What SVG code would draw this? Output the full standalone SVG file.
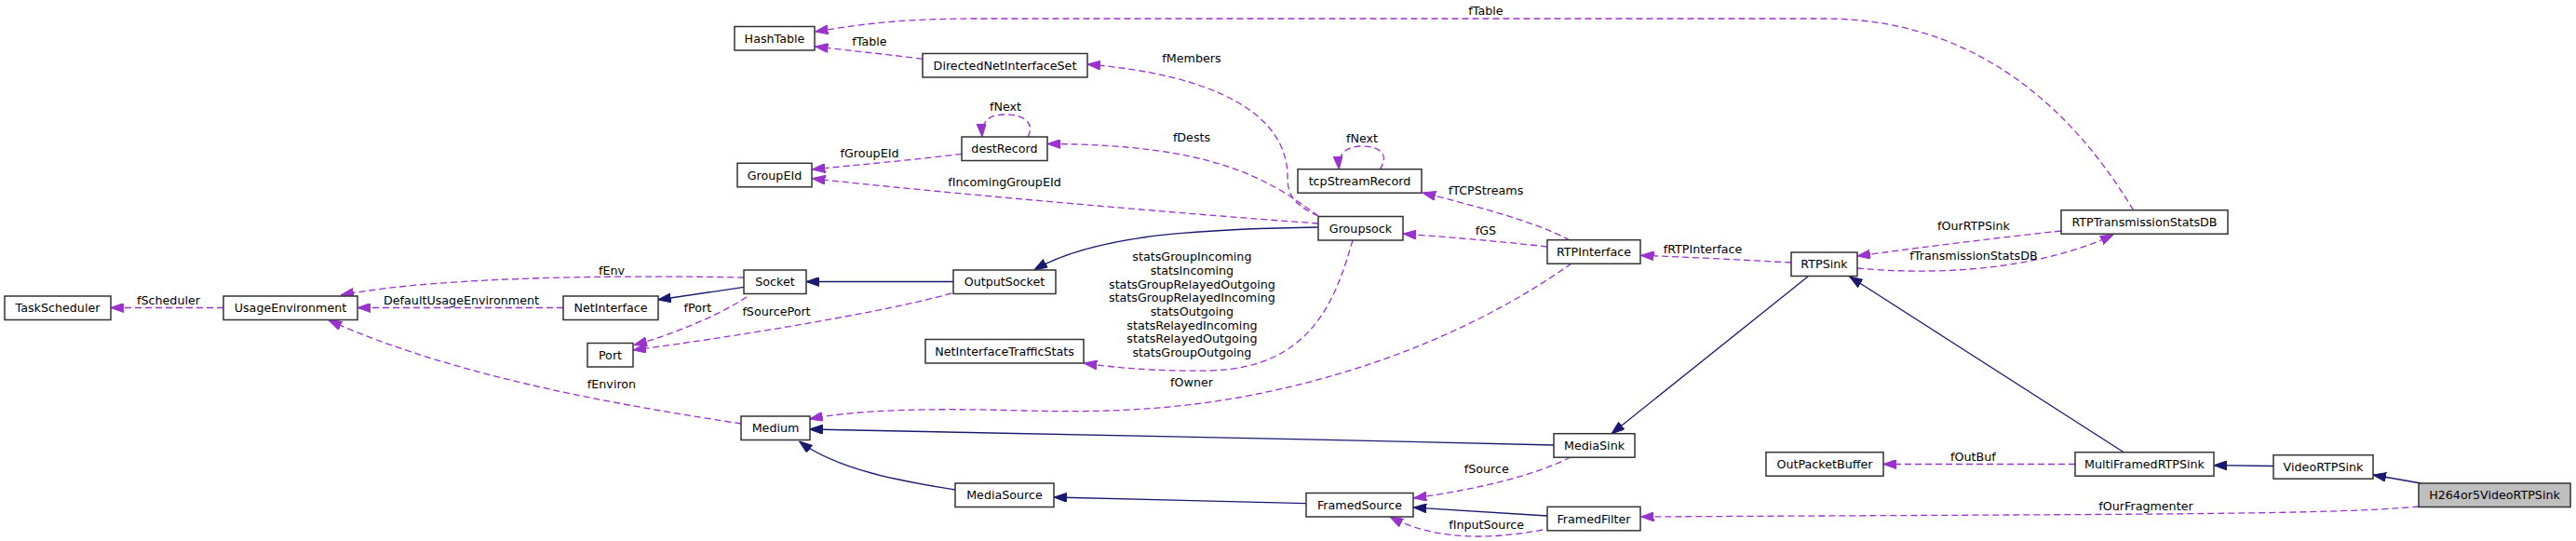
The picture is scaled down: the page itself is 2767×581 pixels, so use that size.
<svg xmlns="http://www.w3.org/2000/svg" width="2767" height="581" viewBox="0 0 2767 581">
<style>
text{font-family:"DejaVu Sans","Liberation Sans",sans-serif;font-size:12.7px;fill:#000;text-anchor:middle}
.n rect{fill:#fff;stroke:#333;stroke-width:1.5}
.n.cur rect{fill:#bfbfbf}
.u{fill:none;stroke:#9a32cd;stroke-width:1.3;stroke-dasharray:7,4;marker-end:url(#pu)}
.i{fill:none;stroke:#191970;stroke-width:1.3;marker-end:url(#pi)}
</style>
<defs>
<marker id="pu" markerUnits="userSpaceOnUse" markerWidth="14" markerHeight="10" viewBox="0 0 14 10" refX="14" refY="5" orient="auto"><path d="M0,0 L14,5 L0,10 z" fill="#9a32cd" stroke="#9a32cd" stroke-width="1"/></marker>
<marker id="pi" markerUnits="userSpaceOnUse" markerWidth="14" markerHeight="10" viewBox="0 0 14 10" refX="14" refY="5" orient="auto"><path d="M0,0 L14,5 L0,10 z" fill="#191970" stroke="#191970" stroke-width="1"/></marker>
</defs>
<rect width="2767" height="581" fill="#fff"/>
<g id="edges">
<path class="u" d="M2291.5,225.7 C2240,140 2140,20 1960,20 L1050,20 C960,20 920,27 875.4,34"/>
<text x="1596" y="16">fTable</text>
<path class="u" d="M991,63.3 C950,58 910,54 875.4,50"/>
<text x="934" y="48.5">fTable</text>
<path class="u" d="M1416,232 C1390,220 1383,210 1383,190 C1383,120 1300,80 1168,69"/>
<text x="1280" y="66.8">fMembers</text>
<path class="u" d="M1104,147 C1112,132 1100,123 1080,123 C1062,123 1054,130 1055,147"/>
<text x="1080" y="118.8">fNext</text>
<path class="u" d="M1033,165.3 C980,172 920,177 872.3,182"/>
<text x="934" y="168.5">fGroupEId</text>
<path class="u" d="M1416,232 C1360,190 1300,155 1125.4,154.5"/>
<text x="1280" y="151.8">fDests</text>
<path class="u" d="M1416,240 C1250,228 1000,206 872.3,191.7"/>
<text x="1079" y="199.5">fIncomingGroupEId</text>
<path class="i" d="M1416,244 C1300,246 1180,250 1111,289.7"/>
<path class="u" d="M1482,182 C1492,168 1485,157 1463,157 C1445,157 1437,166 1438.3,181.7"/>
<text x="1463" y="152.8">fNext</text>
<path class="u" d="M1686,258 C1650,238 1580,220 1528,207"/>
<text x="1596" y="208.8">fTCPStreams</text>
<path class="u" d="M1662,265 C1610,259 1560,255 1507,251"/>
<text x="1596" y="251.8">fGS</text>
<path class="u" d="M1453,258 C1435,320 1410,395 1300,398 C1240,399 1200,395 1164.3,390"/>
<text x="1280.4" y="280.2">statsGroupIncoming<tspan x="1280.4" dy="14.7">statsIncoming</tspan><tspan x="1280.4" dy="14.7">statsGroupRelayedOutgoing</tspan><tspan x="1280.4" dy="14.7">statsGroupRelayedIncoming</tspan><tspan x="1280.4" dy="14.7">statsOutgoing</tspan><tspan x="1280.4" dy="14.7">statsRelayedIncoming</tspan><tspan x="1280.4" dy="14.7">statsRelayedOutgoing</tspan><tspan x="1280.4" dy="14.7">statsGroupOutgoing</tspan></text>
<path class="u" d="M1688,283 C1600,345 1480,400 1330,427 C1250,441 1180,443 1100,441 C1000,438 920,440 869.6,450"/>
<text x="1280" y="414.8">fOwner</text>
<path class="u" d="M1924,282 C1870,279 1810,276 1762.5,274.3"/>
<text x="1829" y="272.2">fRTPInterface</text>
<path class="u" d="M2214,248 C2140,256 2060,266 1995,275"/>
<text x="2120" y="246.8">fOurRTPSink</text>
<path class="u" d="M1995,288 C2080,296 2190,290 2270,252"/>
<text x="2120" y="278.5">fTransmissionStatsDB</text>
<path class="i" d="M1942,297 L1731,465.7"/>
<path class="i" d="M2281.3,485.7 L1986.7,297"/>
<path class="u" d="M799,298 C700,296 480,295 366,317"/>
<text x="657" y="295.2">fEnv</text>
<path class="u" d="M240,330.5 L118.8,330.5"/>
<text x="181" y="327.2">fScheduler</text>
<path class="u" d="M605,330.5 L384,330.5"/>
<text x="495.5" y="327.2">DefaultUsageEnvironment</text>
<path class="i" d="M799,308.3 L706.7,322"/>
<path class="u" d="M802,319 C770,340 720,360 681,370.5"/>
<text x="749.3" y="335">fPort</text>
<path class="u" d="M1022,315 C950,335 800,360 680,376"/>
<text x="834" y="338.5">fSourcePort</text>
<path class="u" d="M796,455 C700,440 500,410 353,344"/>
<text x="657" y="417">fEnviron</text>
<path class="i" d="M1024,302.5 L866,302.5"/>
<path class="i" d="M1669,478 C1400,472 1100,464 869.6,461"/>
<path class="i" d="M1026,526 C970,517 900,505 858.5,474"/>
<path class="i" d="M1403,540.7 L1132,534"/>
<path class="u" d="M1687,491 C1650,510 1590,525 1518.3,535"/>
<text x="1596.7" y="507.8">fSource</text>
<path class="i" d="M1662,554 L1518.3,545"/>
<path class="u" d="M1657,569 C1600,580 1540,580 1493,555"/>
<text x="1596.7" y="567.8">fInputSource</text>
<path class="u" d="M2598,544 C2500,553 2300,552 1762.5,555"/>
<text x="2305" y="547.8">fOurFragmenter</text>
<path class="u" d="M2229,498.5 L2023,498.5"/>
<text x="2119.4" y="494.8">fOutBuf</text>
<path class="i" d="M2442,500.5 L2378,499.7"/>
<path class="i" d="M2600.5,519 L2549,510"/>
</g>
<g id="TaskScheduler" class="n"><rect x="5" y="318" width="114" height="25.5"/><text x="62" y="335.2">TaskScheduler</text></g>
<g id="UsageEnvironment" class="n"><rect x="240" y="318" width="144" height="25.5"/><text x="312" y="335.2">UsageEnvironment</text></g>
<g id="NetInterface" class="n"><rect x="605" y="318" width="102" height="25.5"/><text x="656" y="335.2">NetInterface</text></g>
<g id="Port" class="n"><rect x="631" y="368.5" width="49" height="25.5"/><text x="655.5" y="385.7">Port</text></g>
<g id="HashTable" class="n"><rect x="789" y="28.5" width="86" height="25.5"/><text x="832" y="45.7">HashTable</text></g>
<g id="DirectedNetInterfaceSet" class="n"><rect x="991" y="57.5" width="177" height="25.5"/><text x="1079.5" y="74.7">DirectedNetInterfaceSet</text></g>
<g id="destRecord" class="n"><rect x="1033" y="147" width="92" height="25.5"/><text x="1079" y="164.2">destRecord</text></g>
<g id="GroupEId" class="n"><rect x="792" y="175.3" width="80" height="25.5"/><text x="832" y="192.5">GroupEId</text></g>
<g id="Socket" class="n"><rect x="799" y="290" width="67" height="25.5"/><text x="832.5" y="307.2">Socket</text></g>
<g id="OutputSocket" class="n"><rect x="1024" y="290" width="110" height="25.5"/><text x="1079" y="307.2">OutputSocket</text></g>
<g id="NetInterfaceTrafficStats" class="n"><rect x="994" y="364.5" width="170" height="25.5"/><text x="1079" y="381.7">NetInterfaceTrafficStats</text></g>
<g id="Medium" class="n"><rect x="796" y="447" width="74" height="25.5"/><text x="833" y="464.2">Medium</text></g>
<g id="MediaSource" class="n"><rect x="1026" y="519" width="106" height="25.5"/><text x="1079" y="536.2">MediaSource</text></g>
<g id="tcpStreamRecord" class="n"><rect x="1394" y="181.7" width="133" height="25.5"/><text x="1460.5" y="198.9">tcpStreamRecord</text></g>
<g id="Groupsock" class="n"><rect x="1416" y="232.5" width="91" height="25.5"/><text x="1461.5" y="249.7">Groupsock</text></g>
<g id="RTPInterface" class="n"><rect x="1662" y="257.7" width="100" height="25.5"/><text x="1712" y="274.9">RTPInterface</text></g>
<g id="RTPSink" class="n"><rect x="1924" y="271" width="71" height="25.5"/><text x="1959.5" y="288.2">RTPSink</text></g>
<g id="RTPTransmissionStatsDB" class="n"><rect x="2214" y="225.7" width="179" height="25.5"/><text x="2303.5" y="242.9">RTPTransmissionStatsDB</text></g>
<g id="MediaSink" class="n"><rect x="1669" y="465.7" width="87" height="25.5"/><text x="1712.5" y="482.9">MediaSink</text></g>
<g id="FramedSource" class="n"><rect x="1403" y="529.5" width="115" height="25.5"/><text x="1460.5" y="546.7">FramedSource</text></g>
<g id="FramedFilter" class="n"><rect x="1662" y="544.3" width="100" height="25.5"/><text x="1712" y="561.5">FramedFilter</text></g>
<g id="OutPacketBuffer" class="n"><rect x="1897" y="485.7" width="126" height="25.5"/><text x="1960" y="502.9">OutPacketBuffer</text></g>
<g id="MultiFramedRTPSink" class="n"><rect x="2229" y="485.7" width="149" height="25.5"/><text x="2303.5" y="502.9">MultiFramedRTPSink</text></g>
<g id="VideoRTPSink" class="n"><rect x="2442" y="488.7" width="107" height="25.5"/><text x="2495.5" y="505.9">VideoRTPSink</text></g>
<g id="H264or5VideoRTPSink" class="n cur"><rect x="2598" y="519" width="163" height="25.5"/><text x="2679.5" y="536.2">H264or5VideoRTPSink</text></g>
</svg>
